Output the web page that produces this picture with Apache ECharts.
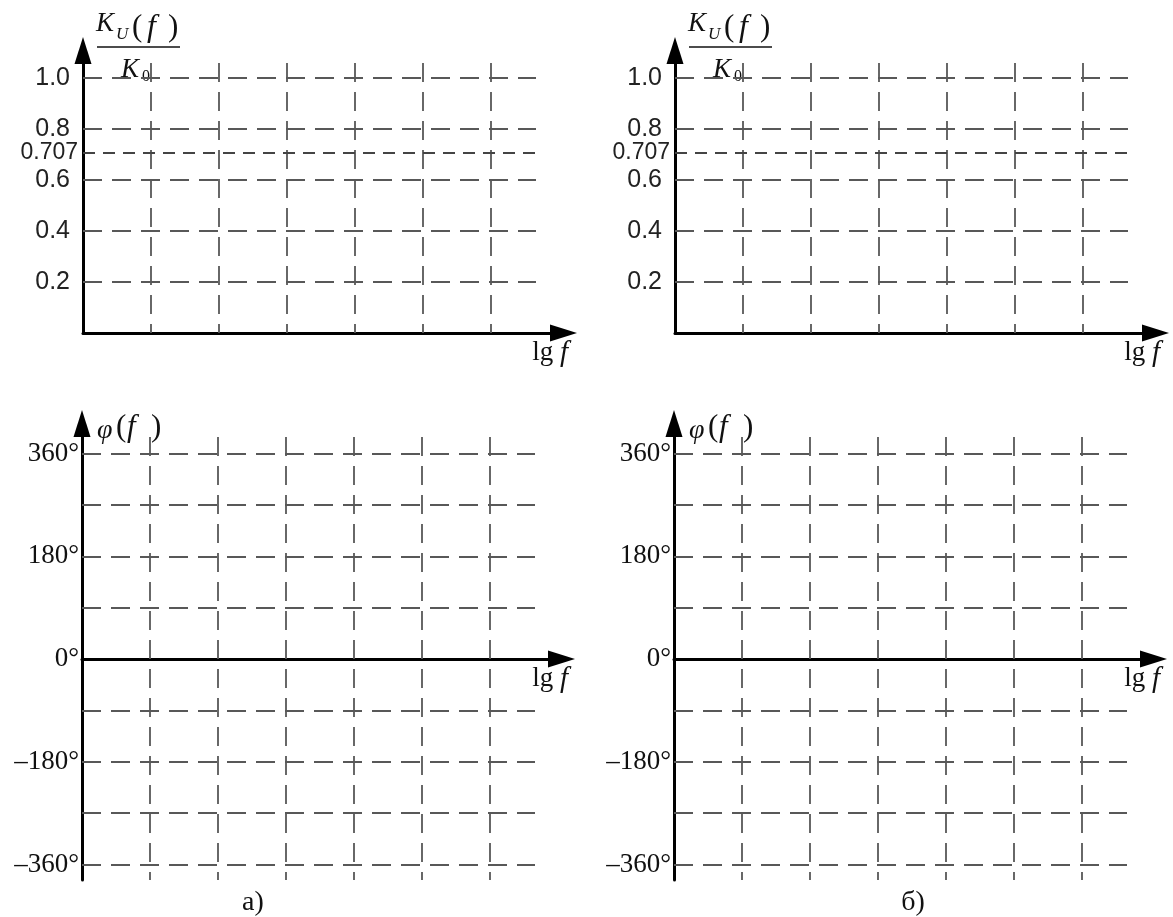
<!DOCTYPE html>
<html>
<head>
<meta charset="utf-8">
<script src="https://cdn.jsdelivr.net/npm/echarts@6/dist/echarts.min.js"></script>
<style>
  html, body { margin: 0; padding: 0; background: #fff; }
  #chart { width: 1173px; height: 917px; }
</style>
</head>
<body>
<div id="chart"></div>
<script>
// Normalised gain levels K_U(f)/K_0 that get a gridline and a label
const gainLevels = [0.2, 0.4, 0.6, 0.8, 1.0];
// Cut-off level (-3 dB)
const cutoffLevel = 0.707;
// Phase gridlines and labelled phase values, degrees
const phaseLevels = [-360, -270, -180, -90, 90, 180, 270, 360];
const phaseLabels = [-360, -180, 0, 180, 360];
// Frequency decades along the lg f axis
const decades = [1, 2, 3, 4, 5, 6];
// Sub-figure captions
const captions = ['а)', 'б)'];

// ---- layout (pixels) ----
const ARROW = [17, 27];          // arrow head: width across, length along the axis
const DECADE_PX = 68;            // one decade on lg f
const PANEL_SHIFT = [0, 592];    // left / right column
const SERIF = '"Liberation Serif", "Times New Roman", serif';
const SANS = '"Liberation Sans", Arial, sans-serif';

const gainBox = { axisX: 83, axisY: 333, tipY: 37, tipX: 577, bottomY: 333,
                  unitPx: 255, gridRight: 536, cutoffRight: 543, gridTop: 63 };
const phaseBox = { axisX: 82, axisY: 659, tipY: 410, tipX: 575, bottomY: 880,
                   unitPx: 51.375 / 90, gridRight: 535, gridTop: 437 };

const gridDash = { color: '#585858', width: 1.8, type: [19, 10], dashOffset: 0 };
const cutoffDash = { color: '#444', width: 1.8, type: [12, 8], dashOffset: 0 };
const axisLineStyle = { color: '#000', width: 3 };

const grids = [], xAxes = [], yAxes = [], series = [], graphics = [];

function addPanel(box, shift, kind) {
  const idx = grids.length;
  const left = box.axisX + shift;
  const top = box.tipY + ARROW[1] / 2;
  const right = box.tipX + shift - ARROW[1] / 2;
  const bottom = box.bottomY;
  grids.push({ left: left, top: top, width: right - left, height: bottom - top });

  const xMax = (right - left) / DECADE_PX;
  const yMin = -(box.bottomY - box.axisY) / box.unitPx;
  const yMax = (box.axisY - top) / box.unitPx;
  const xGridEnd = (box.gridRight - box.axisX) / DECADE_PX;
  const yGridTop = (box.axisY - box.gridTop) / box.unitPx;

  const axisCommon = {
    gridIndex: idx, type: 'value',
    axisLine: { show: true, onZero: true, symbol: ['none', 'triangle'],
                symbolSize: ARROW, lineStyle: axisLineStyle },
    axisTick: { show: false }, axisLabel: { show: false }, splitLine: { show: false }
  };
  xAxes.push(Object.assign({}, axisCommon, { min: 0, max: xMax }));
  yAxes.push(Object.assign({}, axisCommon, { min: yMin, max: yMax }));

  const lines = [];
  // vertical decade lines, drawn top to bottom
  decades.forEach(d => {
    lines.push([{ coord: [d, yGridTop], lineStyle: gridDash, label: { show: false } },
                { coord: [d, yMin] }]);
  });

  if (kind === 'gain') {
    gainLevels.forEach(v => {
      lines.push([{ coord: [0, v], lineStyle: gridDash,
                    label: { show: true, position: 'start', distance: 13,
                             formatter: v.toFixed(1), fontFamily: SANS,
                             fontSize: 25, color: '#222' } },
                  { coord: [xGridEnd, v] }]);
    });
    const cutEnd = (box.cutoffRight - box.axisX) / DECADE_PX;
    lines.push([{ coord: [0, cutoffLevel], lineStyle: cutoffDash,
                  label: { show: true, position: 'start', distance: 5,
                           formatter: String(cutoffLevel), fontFamily: SANS,
                           fontSize: 23, color: '#222' } },
                { coord: [cutEnd, cutoffLevel] }]);
  } else {
    phaseLevels.forEach(v => {
      lines.push([{ coord: [0, v], lineStyle: gridDash, label: { show: false } },
                  { coord: [xGridEnd, v] }]);
    });
    phaseLabels.forEach(v => {
      const txt = (v < 0 ? '\u2013' : '') + Math.abs(v) + '\u00b0';
      lines.push([{ coord: [0, v], lineStyle: { width: 0, color: 'transparent' },
                    label: { show: true, position: 'start', distance: 3,
                             formatter: txt, fontFamily: SERIF,
                             fontSize: 27, color: '#111' } },
                  { coord: [xGridEnd, v] }]);
    });
  }

  series.push({
    type: 'line', xAxisIndex: idx, yAxisIndex: idx, data: [],
    markLine: { silent: true, symbol: ['none', 'none'], animation: false,
                label: { show: false }, data: lines }
  });

  // "lg f" under the end of the frequency axis
  graphics.push({
    type: 'text', x: 568 + shift, y: box.axisY + 20,
    style: {
      text: '{a|lg }{b|f}', align: 'right', verticalAlign: 'middle',
      rich: {
        a: { fontFamily: SERIF, fontSize: 27, fill: '#111' },
        b: { fontFamily: SERIF, fontStyle: 'italic', fontSize: 29, fill: '#111' }
      }
    }
  });
}

function serifText(x, y, text, size, italic) {
  return { type: 'text', x: x, y: y,
           style: { text: text, fontFamily: SERIF, fontSize: size,
                    fontStyle: italic ? 'italic' : 'normal',
                    fill: '#111', verticalAlign: 'middle' } };
}

function gainTitle(shift) {
  return { type: 'group', x: shift, y: 0, children: [
    serifText(96, 24, 'K', 27, true),
    serifText(116, 35, 'U', 17, true),
    serifText(132, 28, '(', 31, false),
    serifText(147, 28, 'f', 32, true),
    serifText(168, 28, ')', 31, false),
    { type: 'line', shape: { x1: 97, y1: 47, x2: 180, y2: 47 },
      style: { stroke: '#111', lineWidth: 1.5 } },
    serifText(121, 70, 'K', 27, true),
    serifText(142, 77, '0', 16, false)
  ] };
}

function phaseTitle(shift) {
  return { type: 'group', x: shift, y: 0, children: [
    serifText(97, 431, 'φ', 28, true),
    serifText(116, 428, '(', 31, false),
    serifText(127, 428, 'f', 31, true),
    serifText(151, 428, ')', 31, false)
  ] };
}

PANEL_SHIFT.forEach((shift, i) => {
  addPanel(gainBox, shift, 'gain');
  addPanel(phaseBox, shift, 'phase');
  graphics.push(gainTitle(shift));
  graphics.push(phaseTitle(shift));
  graphics.push({ type: 'text', x: 253 + shift * (660 / 592), y: 903,
                  style: { text: captions[i], fontFamily: SERIF, fontSize: 28,
                           fill: '#111', align: 'center', verticalAlign: 'middle' } });
});

const chart = echarts.init(document.getElementById('chart'), null, { renderer: 'canvas' });
chart.setOption({
  backgroundColor: '#fff',
  animation: false,
  grid: grids,
  xAxis: xAxes,
  yAxis: yAxes,
  series: series,
  graphic: graphics
});
</script>
</body>
</html>
